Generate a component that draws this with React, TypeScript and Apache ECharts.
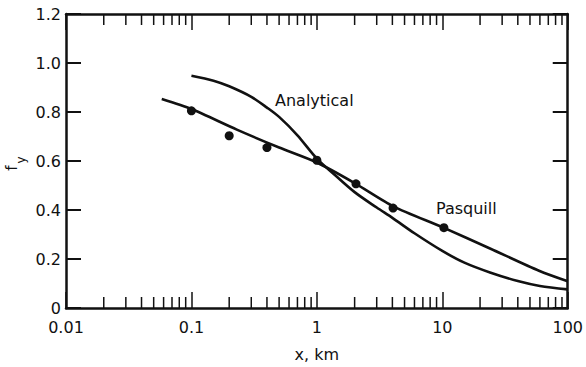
import React, { useEffect, useRef } from "react";
import * as echarts from "echarts";

const pasquillLine: [number, number][] = [
  [0.058, 0.853], [0.1, 0.812], [0.23, 0.728], [0.5, 0.655], [1.0, 0.594], [2.0, 0.51],
  [4.1, 0.414], [10, 0.33], [24, 0.243], [59, 0.152], [100, 0.109],
];
const pasquillPoints: [number, number][] = [
  [0.1, 0.805], [0.2, 0.703], [0.4, 0.655], [1.0, 0.603], [2.05, 0.507], [4.05, 0.408], [10.3, 0.328],
];
const analytical: [number, number][] = [
  [0.1, 0.948], [0.15, 0.928], [0.2, 0.905], [0.3, 0.862], [0.4, 0.818], [0.5, 0.78], [0.7, 0.705],
  [1.0, 0.61], [1.4, 0.542], [2.0, 0.473], [3.0, 0.41], [4.0, 0.368], [6.0, 0.305], [10, 0.233],
  [15, 0.185], [24, 0.145], [40, 0.11], [60, 0.09], [100, 0.076],
];
const minorTicks: number[] = [
  0.02, 0.03, 0.04, 0.05, 0.06, 0.07, 0.08, 0.09,
  0.2, 0.3, 0.4, 0.5, 0.6, 0.7, 0.8, 0.9,
  2, 3, 4, 5, 6, 7, 8, 9,
  20, 30, 40, 50, 60, 70, 80, 90,
];
const yTicks = { min: 0, max: 1.2, interval: 0.2 };
const xRange = { min: 0.01, max: 100 };

const INK = "#111";
const FONT = "DejaVu Sans";

export default function App() {
  const ref = useRef<HTMLDivElement>(null);
  useEffect(() => {
    if (!ref.current) return;
    const chart = echarts.init(ref.current, null, { renderer: "svg" });
    const fmtX = (v: number) => String(Number(v.toPrecision(3)));
    const fmtY = (v: number) => (Math.abs(v) < 1e-9 ? "0" : v.toFixed(1));
    const axisLine = { show: true, onZero: false, lineStyle: { color: INK, width: 2.5 } };
    chart.setOption({
      animation: false,
      backgroundColor: "#fff",
      grid: { left: 66, right: 10, top: 14, bottom: 53, containLabel: false },
      xAxis: [
        {
          type: "log", logBase: 10, min: xRange.min, max: xRange.max, position: "bottom",
          axisLine, splitLine: { show: false },
          axisTick: { show: true, inside: true, length: 16, lineStyle: { color: INK, width: 1.5 } },
          axisLabel: { show: true, color: INK, fontFamily: FONT, fontSize: 16, margin: 11, formatter: fmtX },
          name: "x, km", nameLocation: "middle", nameGap: 38,
          nameTextStyle: { color: INK, fontFamily: FONT, fontSize: 16 },
        },
        {
          type: "log", logBase: 10, min: xRange.min, max: xRange.max, position: "top",
          axisLine, splitLine: { show: false },
          axisTick: { show: true, inside: true, length: 16, lineStyle: { color: INK, width: 1.5 } },
          axisLabel: { show: false },
        },
      ],
      yAxis: [
        {
          type: "value", min: yTicks.min, max: yTicks.max, interval: yTicks.interval, position: "left",
          axisLine, splitLine: { show: false },
          axisTick: { show: true, inside: true, length: 15, lineStyle: { color: INK, width: 2 } },
          axisLabel: { color: INK, fontFamily: FONT, fontSize: 16, margin: 5, formatter: fmtY },
        },
        {
          type: "value", min: yTicks.min, max: yTicks.max, interval: yTicks.interval, position: "right",
          axisLine, splitLine: { show: false },
          axisTick: { show: true, inside: true, length: 15, lineStyle: { color: INK, width: 2 } },
          axisLabel: { show: false },
        },
      ],
      graphic: [
        { type: "text", x: 275, y: 100, style: { text: "Analytical", fill: INK, font: `16px '${FONT}'`, textVerticalAlign: "middle" } },
        { type: "text", x: 436, y: 208, style: { text: "Pasquill", fill: INK, font: `16px '${FONT}'`, textVerticalAlign: "middle" } },
        { type: "text", x: 12, y: 168, rotation: Math.PI / 2, style: { text: "f", fill: INK, font: `15px '${FONT}'`, textAlign: "center", textVerticalAlign: "middle" } },
        { type: "text", x: 21, y: 160, rotation: Math.PI / 2, style: { text: "y", fill: INK, font: `12px '${FONT}'`, textAlign: "center", textVerticalAlign: "middle" } },
      ],
      series: [
        {
          type: "custom", xAxisIndex: 0, yAxisIndex: 0, silent: true, clip: false,
          data: minorTicks.map((t) => [t, yTicks.min]),
          renderItem: (_p: any, api: any) => {
            const x = api.value(0);
            const b = api.coord([x, yTicks.min]);
            const t = api.coord([x, yTicks.max]);
            return {
              type: "group",
              children: [
                { type: "line", shape: { x1: b[0], y1: b[1], x2: b[0], y2: b[1] - 11 }, style: { stroke: INK, lineWidth: 1.5 } },
                { type: "line", shape: { x1: t[0], y1: t[1], x2: t[0], y2: t[1] + 11 }, style: { stroke: INK, lineWidth: 1.5 } },
              ],
            };
          },
        },
        {
          name: "Pasquill", type: "line", data: pasquillLine, smooth: 0.25, showSymbol: false,
          lineStyle: { color: INK, width: 2.6 }, z: 3,
        },
        {
          name: "Analytical", type: "line", data: analytical, smooth: 0.3, showSymbol: false,
          lineStyle: { color: INK, width: 2.6 }, z: 3,
        },
        {
          name: "Pasquill data", type: "scatter", data: pasquillPoints, symbol: "circle", symbolSize: 9,
          itemStyle: { color: INK, opacity: 1 }, z: 4,
        },
      ],
    });
    return () => chart.dispose();
  }, []);
  return (
    <div
      ref={ref}
      style={{ position: "fixed", left: 0, top: 0, width: 586, height: 367, background: "#fff" }}
    />
  );
}
